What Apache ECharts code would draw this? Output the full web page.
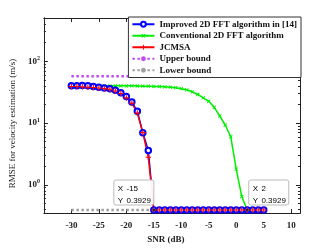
<!DOCTYPE html>
<html><head><meta charset="utf-8">
<script src="https://cdn.jsdelivr.net/npm/echarts@6/dist/echarts.min.js"></script>
<style>html,body{margin:0;padding:0;background:#fff}#c{width:332px;height:249px}</style>
</head><body><div id="c"></div>
<script>
const snr = [-30,-29,-28,-27,-26,-25,-24,-23,-22,-21,-20,-19,-18,-17,-16,-15,-14,-13,-12,-11,-10,-9,-8,-7,-6,-5,-4,-3,-2,-1,0,1,2,3,4,5];
const improved = [40,40,40.5,40,39,38,37,36,34,31,27,22,15.5,7,3.6,0.3929,0.3929,0.3929,0.3929,0.3929,0.3929,0.3929,0.3929,0.3929,0.3929,0.3929,0.3929,0.3929,0.3929,0.3929,0.3929,0.3929,0.3929,0.3929,0.3929,0.3929];
const conventional = [40,40,40,40,40,40,40,40,40,40,40,40,39.8,39.5,39.5,39.2,39,38.5,38,37.3,36,34.5,32,29,25.5,22.5,18,13,9.3,6,1.8,0.65,0.3929,0.3929,0.3929,0.3929];
const jcmsa = [39,39,38.5,38,37.5,37,36,35,33,30,25.5,21,14.5,7,2.8,0.3929,0.3929,0.3929,0.3929,0.3929,0.3929,0.3929,0.3929,0.3929,0.3929,0.3929,0.3929,0.3929,0.3929,0.3929,0.3929,0.3929,0.3929,0.3929,0.3929,0.3929];
const boundX = [-30,5];
const upperVals = [57,57];
const lowerVals = [0.3929,0.3929];
const xTicks = [-30,-25,-20,-15,-10,-5,0,5,10];
const yMajor = [1,10,100];
const yMinor = [0.4,0.5,0.6,0.7,0.8,0.9,2,3,4,5,6,7,8,9,20,30,40,50,60,70,80,90,200,300,400,500];
const names = ['Improved 2D FFT algorithm in [14]','Conventional 2D FFT algorithm','JCMSA','Upper bound','Lower bound'];
const tips = [[-15,0.3929],[2,0.3929]];

const pair = (xs, ys) => xs.map((x,i)=>[x,ys[i]]);
const serif = 'Liberation Serif';
const plus = 'path://M4,0L6,0L6,4L10,4L10,6L6,6L6,10L4,10L4,6L0,6L0,4L4,4Z';
const X0=-35, X1=11.6, Y0=0.35, Y1=500;

function yAxisDef(pos, vals, len, label){
  return {type:'log', logBase:10, min:Y0, max:Y1, position:pos,
    axisLine:{show:true, onZero:false, lineStyle:{color:'#222', width:1}},
    axisTick:{show:true, inside:true, length:len, customValues:vals, lineStyle:{color:'#222'}},
    axisLabel:label ? {show:true, customValues:yMajor, margin:4,
      formatter:v=>'{b|10}{s|'+Math.round(Math.log10(v))+'}',
      rich:{b:{fontFamily:serif,fontSize:9,fontWeight:'bold',color:'#222'},s:{fontFamily:serif,fontSize:6,fontWeight:'bold',color:'#222',verticalAlign:'bottom',padding:[0,0,6,0]}}} : {show:false},
    splitLine:{show:false}, minorTick:{show:false}};
}
function xAxisDef(pos, label){
  return {type:'value', min:X0, max:X1, position:pos,
    axisLine:{show:true, onZero:false, lineStyle:{color:'#222', width:1}},
    axisTick:{show:true, inside:true, length:4, customValues:xTicks, lineStyle:{color:'#222'}},
    axisLabel:label ? {show:true, customValues:xTicks, margin:8, fontFamily:serif, fontSize:9, fontWeight:'bold', color:'#222'} : {show:false},
    splitLine:{show:false}};
}
const xA = xAxisDef('bottom', true);
xA.name='SNR (dB)'; xA.nameLocation='middle'; xA.nameGap=21;
xA.nameTextStyle={fontFamily:serif,fontSize:9,fontWeight:'bold',color:'#222',padding:[0,12,0,0]};
const yA = yAxisDef('left', yMajor, 4, true);
yA.name='RMSE for velocity estimation (m/s)'; yA.nameLocation='middle'; yA.nameGap=19;
yA.nameTextStyle={fontFamily:serif,fontSize:9,color:'#222',padding:[0,16,0,0]};

const chart = echarts.init(document.getElementById('c'), null, {renderer:'canvas'});
chart.setOption({
  animation:false,
  backgroundColor:'#fff',
  grid:{left:43, right:32, top:18, bottom:29},
  xAxis:[xA, xAxisDef('top', false)],
  yAxis:[yA, yAxisDef('left', yMinor, 2, false), yAxisDef('right', yMajor, 4, false), yAxisDef('right', yMinor, 2, false)],
  legend:{orient:'vertical', right:31, top:17, data:names, backgroundColor:'#fff', borderColor:'#333', borderWidth:1,
    padding:[2,4,2,3], itemGap:1, itemWidth:22, itemHeight:6,
    textStyle:{fontFamily:serif, fontSize:9, fontWeight:'bold', color:'#111', lineHeight:10.5}},
  series:[
    {name:names[3], type:'line', data:pair(boundX, upperVals), symbol:'none', lineStyle:{color:'#c04cf5', width:2.5, type:[2.5,2.5]}, itemStyle:{color:'#c04cf5'}},
    {name:names[4], type:'line', data:pair(boundX, lowerVals), symbol:'none', lineStyle:{color:'#a0a0a0', width:2.5, type:[2.5,2.5]}, itemStyle:{color:'#a0a0a0'}},
    {name:names[1], type:'line', data:pair(snr, conventional), symbol:plus, symbolRotate:45, symbolSize:4.5, lineStyle:{color:'#00ee00', width:1.5}, itemStyle:{color:'#00ee00'}},
    {name:names[0], type:'line', data:pair(snr, improved), symbol:'emptyCircle', symbolSize:5.5, lineStyle:{color:'#0000ff', width:1.5}, itemStyle:{color:'#0000ff', borderWidth:1.2}},
    {name:names[2], type:'line', data:pair(snr, jcmsa), symbol:plus, symbolSize:5.5, lineStyle:{color:'#ff0000', width:1.5}, itemStyle:{color:'#ff0000'}}
  ]
});
const g = [];
tips.forEach((t,i)=>{
  const p = chart.convertToPixel({xAxisIndex:0, yAxisIndex:0}, t);
  const w=40, h=25;
  const x = i===0 ? p[0]-w : p[0]+1.5;
  const y = p[1]-5-h;
  g.push({type:'rect', shape:{x:x, y:y, width:w, height:h, r:2}, style:{fill:'rgba(255,255,255,0.95)', stroke:'#bbb', lineWidth:1}, z:100});
  g.push({type:'text', x:x+4, y:y+3, style:{text:'{k|X} {v|'+t[0]+'}\n{k|Y} {v|'+t[1]+'}', rich:{k:{fontFamily:'Liberation Sans',fontSize:8,color:'#444',lineHeight:10},v:{fontFamily:'Liberation Sans',fontSize:8,color:'#1e90ff',lineHeight:10}}}, z:101});
  g.push({type:'circle', shape:{cx:p[0], cy:p[1], r:1.5}, style:{fill:'#222'}, z:101});
});
chart.setOption({graphic:g});
</script></body></html>
